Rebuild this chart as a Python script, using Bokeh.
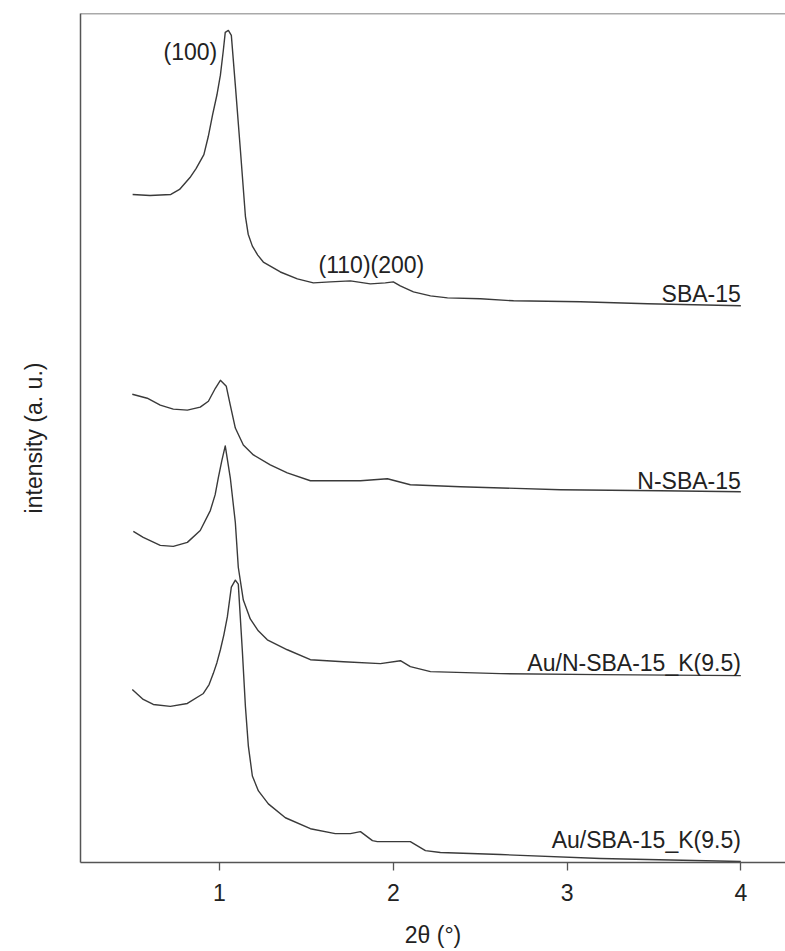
from bokeh.plotting import figure
from bokeh.models import Range1d, FixedTicker, Span, Label
from bokeh.embed import file_html
from bokeh.resources import INLINE

# ---- data (2theta in degrees, intensity in arbitrary offset units) ----
sba_x = [0.50, 0.60, 0.72, 0.77, 0.83, 0.865, 0.91, 0.935, 0.96, 0.985, 1.005, 1.022, 1.033, 1.051, 1.068,
         1.091, 1.120, 1.149, 1.165, 1.189, 1.220, 1.252, 1.350, 1.448, 1.540, 1.638, 1.753, 1.868, 1.954,
         2.000, 2.040, 2.116, 2.214, 2.312, 2.502, 2.692, 3.077, 3.463, 4.000]
sba_y = [672, 671, 672, 677, 689, 698, 712, 730, 752, 772, 792, 817, 835, 837, 832,
         782, 717, 650, 632, 620, 611, 604, 594, 587, 583, 584, 585, 582, 583,
         584, 580, 574, 570, 568, 567, 565, 564, 562, 560]

nsba_x = [0.498, 0.584, 0.659, 0.734, 0.815, 0.889, 0.936, 0.976, 1.005, 1.039, 1.062, 1.091, 1.137,
          1.195, 1.292, 1.390, 1.523, 1.678, 1.811, 1.966, 2.098, 2.386, 2.962, 3.538, 4.000]
nsba_y = [471, 467, 460, 456, 455, 458, 464, 477, 485, 479, 460, 437, 420,
          410, 400, 392, 384, 384, 384, 386, 380, 378, 375, 374, 373]

aun_x = [0.504, 0.561, 0.659, 0.734, 0.815, 0.889, 0.947, 0.975, 0.993, 1.013, 1.033, 1.062, 1.091, 1.108,
         1.137, 1.177, 1.223, 1.275, 1.390, 1.523, 1.713, 1.926, 2.041, 2.098, 2.214, 2.617, 3.193, 4.000]
aun_y = [333, 327, 319, 318, 322, 334, 354, 370, 387, 404, 419, 387, 342, 297,
         264, 245, 233, 224, 214, 204, 202, 200, 203, 197, 192, 190, 189, 188]

ausba_x = [0.498, 0.561, 0.619, 0.717, 0.815, 0.907, 0.940, 0.964, 0.985, 1.005, 1.025, 1.045, 1.068, 1.091,
           1.108, 1.131, 1.149, 1.166, 1.189, 1.224, 1.281, 1.379, 1.523, 1.666, 1.753, 1.811, 1.880, 1.908,
           2.098, 2.185, 2.271, 2.617, 3.193, 4.000]
ausba_y = [174, 164, 159, 157, 160, 170, 179, 190, 201, 214, 229, 247, 277, 284,
           280, 214, 157, 117, 87, 72, 59, 45, 34, 29, 29, 31, 22, 21,
           21, 12, 10, 8, 4, 1]

series_names = ["SBA-15", "N-SBA-15", "Au/N-SBA-15_K(9.5)", "Au/SBA-15_K(9.5)"]
series_label_y = [572, 384, 201, 23]
peak_labels = ["(100)", "(110)(200)"]
peak_label_x = [0.987, 1.874]
peak_label_y = [815, 601]
x_ticks = [1, 2, 3, 4]

FONT = "Liberation Sans"
FS = "23px"
LINE = "#3a3a3a"
TXT = "#222222"
AXC = "#555555"

p = figure(width=785, height=950, output_backend="svg", toolbar_location=None,
           x_range=Range1d(0.2, 4.257), y_range=Range1d(0, 854),
           min_border_left=80, min_border_right=0, min_border_top=13, min_border_bottom=83)
p.outline_line_color = None
p.grid.grid_line_color = None
p.background_fill_color = "white"

for xs, ys in [(sba_x, sba_y), (nsba_x, nsba_y), (aun_x, aun_y), (ausba_x, ausba_y)]:
    p.line(xs, ys, line_color=LINE, line_width=1.4, line_join="round")

# top border
p.add_layout(Span(location=854, dimension="width", line_color=AXC, line_width=1.5))

# x axis
xa = p.xaxis[0]
xa.ticker = FixedTicker(ticks=x_ticks)
xa.minor_tick_line_color = None
xa.major_tick_in = 0
xa.major_tick_out = 8
xa.axis_line_color = AXC
xa.axis_line_width = 1.5
xa.major_tick_line_color = AXC
xa.major_tick_line_width = 1.3
xa.major_label_text_font = FONT
xa.major_label_text_font_size = FS
xa.major_label_text_color = TXT
xa.major_label_standoff = 13
xa.axis_label = "2θ (°)"
xa.axis_label_text_font = FONT
xa.axis_label_text_font_style = "normal"
xa.axis_label_text_font_size = FS
xa.axis_label_text_color = TXT
xa.axis_label_standoff = 18

# y axis
ya = p.yaxis[0]
ya.ticker = FixedTicker(ticks=[])
ya.minor_tick_line_color = None
ya.major_tick_line_color = None
ya.axis_line_color = AXC
ya.axis_line_width = 1.5
ya.axis_label = "intensity (a. u.)"
ya.axis_label_text_font = FONT
ya.axis_label_text_font_style = "normal"
ya.axis_label_text_font_size = FS
ya.axis_label_text_color = TXT
ya.axis_label_standoff = 34

for name, ly in zip(series_names, series_label_y):
    p.add_layout(Label(x=4.0, y=ly, text=name, text_align="right", text_baseline="alphabetic",
                       text_font=FONT, text_font_size=FS, text_color=TXT))

p.add_layout(Label(x=peak_label_x[0], y=peak_label_y[0], text=peak_labels[0], text_align="right",
                   text_baseline="alphabetic", text_font=FONT, text_font_size=FS, text_color=TXT))
p.add_layout(Label(x=peak_label_x[1], y=peak_label_y[1], text=peak_labels[1], text_align="center",
                   text_baseline="alphabetic", text_font=FONT, text_font_size=FS, text_color=TXT))

open("out.html", "w").write(file_html(p, INLINE))
